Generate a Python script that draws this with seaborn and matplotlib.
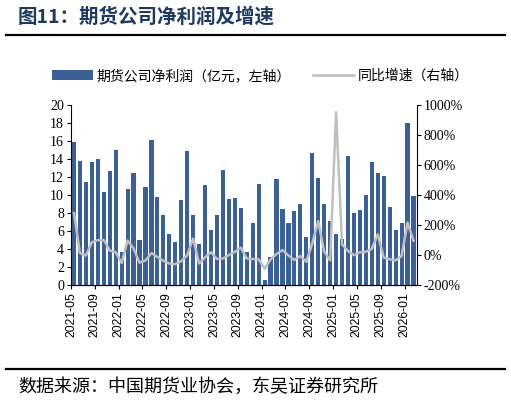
import numpy as np
import pandas as pd
import matplotlib as mpl
import matplotlib.pyplot as plt
import seaborn as sns
from matplotlib.lines import Line2D
from matplotlib.patches import Patch

mpl.use('Agg')

# 数据：月度期货公司净利润（亿元）及同比增速（%）
months = pd.date_range('2021-05-01', '2026-02-01', freq='MS').strftime('%Y-%m').tolist()
profit = [15.9, 13.8, 11.4, 13.6, 14.0, 10.3, 12.6, 15.0,
          3.7, 10.7, 12.4, 5.0, 10.9, 16.1, 9.8, 7.8, 5.7, 4.8, 9.4, 14.9,
          7.8, 4.6, 11.1, 6.1, 7.8, 12.7, 9.6, 9.7, 8.6, 3.7, 6.9, 11.2,
          0.6, 3.1, 11.8, 8.4, 6.9, 8.2, 9.0, 5.3, 14.6, 11.9, 9.0, 7.1,
          5.7, 5.1, 14.3, 8.0, 8.3, 10.0, 13.6, 12.4, 12.1, 8.7, 6.1, 6.9,
          17.9, 9.9]
growth = [280, 14, -3, 86, 100, 100, 31, 20,
          -52, 97, 45, -50, -35, 14, -12, -37, -56, -60, -40, -2,
          111, -55, -15, 20, -25, -22, 1, 22, 50, -22, -26, -27,
          -90, -28, 8, 34, -2, -32, -6, -44, 79, 226, 23, -35,
          948, 71, 28, 0, 19, 23, 42, 138, -16, -27, -34, -5,
          216, 96]

df = pd.DataFrame({'month': months, 'profit': profit, 'growth': growth})
df['idx'] = np.arange(len(df))

bar_color = '#3B6096'
line_color = '#BFBFBF'
title_color = '#1F3A60'

plt.rcParams['font.family'] = ['Noto Sans CJK SC', 'DejaVu Sans']
serif = ['Liberation Serif', 'DejaVu Serif']

fig = plt.figure(figsize=(5.11, 4.03), dpi=100)
ax = fig.add_axes([71 / 511, 1 - 285.3 / 403, (416.5 - 71) / 511, (285.3 - 104.5) / 403])

sns.barplot(data=df, x='idx', y='profit', color=bar_color, width=0.7,
            saturation=1, ax=ax)
ax.set_xlim(-0.5, len(df) - 0.5)
ax.set_ylim(0, 20)
ax.set_yticks(np.arange(0, 21, 2))
ax.set_yticklabels([str(v) for v in range(0, 21, 2)], family=serif, fontsize=10)
tick_pos = np.arange(0, len(df), 4)
ax.set_xticks(tick_pos - 0.5)
ax.set_xticklabels([months[i] for i in tick_pos], rotation=90, family=['Liberation Sans'], fontsize=8.8)
ax.set_xlabel('')
ax.set_ylabel('')
for s in ['top', 'right']:
    ax.spines[s].set_visible(False)
ax.tick_params(direction='out', length=3, width=0.8, pad=2)

ax2 = ax.twinx()
sns.lineplot(data=df, x='idx', y='growth', color=line_color, linewidth=1.8, ax=ax2)
ax2.set_ylim(-200, 1000)
ax2.set_yticks(np.arange(-200, 1001, 200))
ax2.set_yticklabels([f'{v}%' for v in range(-200, 1001, 200)], family=serif, fontsize=10)
ax2.set_xlim(-0.5, len(df) - 0.5)
ax2.set_ylabel('')
ax2.set_xlabel('')
ax2.spines['top'].set_visible(False)
ax2.spines['left'].set_visible(False)
ax2.tick_params(direction='out', length=3, width=0.8, pad=2)

# 图例
handles = [Patch(facecolor=bar_color, edgecolor='none'),
           Line2D([0], [0], color=line_color, linewidth=1.8)]
fig.legend(handles, ['期货公司净利润（亿元，左轴）', '同比增速（右轴）'],
           loc='center', bbox_to_anchor=(0.51, 1 - 76 / 403), ncol=2, frameon=False,
           fontsize=10, handlelength=2.9, handleheight=0.7, columnspacing=1.6,
           handletextpad=0.3)

# 标题与分隔线
fig.text(18 / 511, 1 - 17 / 403, '图11：期货公司净利润及增速', fontsize=14,
         fontweight='bold', color=title_color, va='center', ha='left')
fig.add_artist(Line2D([6 / 511, 505 / 511], [1 - 35 / 403] * 2, color='black', linewidth=1.6))
fig.add_artist(Line2D([6 / 511, 505 / 511], [1 - 369 / 403] * 2, color='black', linewidth=1.6))
fig.text(18 / 511, 1 - 387 / 403, '数据来源：中国期货业协会，东吴证券研究所', fontsize=13,
         va='center', ha='left', color='black')

fig.savefig('out.png', dpi=100)
